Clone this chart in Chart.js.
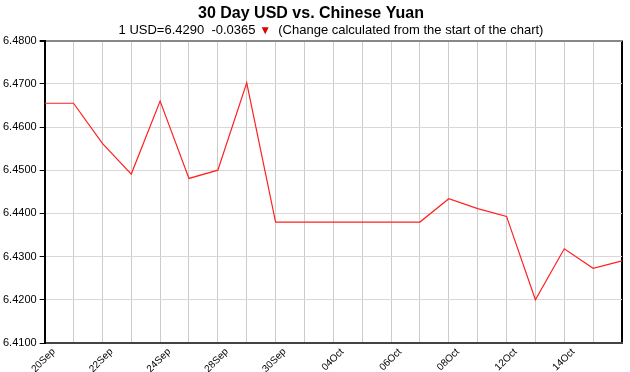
<!DOCTYPE html>
<html>
<head>
<meta charset="utf-8">
<script src="https://cdn.jsdelivr.net/npm/chart.js@4.4.1/dist/chart.umd.min.js"></script>
<style>
  html, body { margin: 0; padding: 0; background: #fff; }
  #wrap { width: 630px; height: 372px; }
</style>
</head>
<body>
<div id="wrap"><canvas id="chart" width="630" height="372"></canvas></div>
<script>
// Trading days shown on the x axis
const dates = [
  "20Sep", "21Sep", "22Sep", "23Sep", "24Sep", "27Sep", "28Sep", "29Sep",
  "30Sep", "01Oct", "04Oct", "05Oct", "06Oct", "07Oct", "08Oct", "11Oct",
  "12Oct", "13Oct", "14Oct", "15Oct", "18Oct",
];

// USD -> CNY rate
const rates = [
  6.4655, 6.4655, 6.4562, 6.4491, 6.4660, 6.4481, 6.4500, 6.4702,
  6.4380, 6.4380, 6.4380, 6.4380, 6.4380, 6.4380, 6.4434, 6.4411,
  6.4393, 6.4200, 6.4318, 6.4273, 6.4290,
];

const yTicks = [6.41, 6.42, 6.43, 6.44, 6.45, 6.46, 6.47, 6.48];

const TITLE = "30 Day USD vs. Chinese Yuan";
const SUB_PARTS = [
  { text: "1 USD=6.4290  -0.0365 ", color: "#000", size: 13 },
  { text: "\u25BC", color: "#e00000", size: 12 },
  { text: "  (Change calculated from the start of the chart)", color: "#000", size: 13 },
];
const SUB_TEXT = SUB_PARTS.map((p) => p.text).join("");
const FONT = "'Liberation Sans', Arial, sans-serif";

// Draws the subtitle in several colours inside the space reserved by the subtitle box
const subtitleColors = {
  id: "subtitleColors",
  afterDraw(chart) {
    const box = chart.boxes.find(
      (b) => b.options && b.options.text === SUB_TEXT && b.options.color === "rgba(0,0,0,0)",
    );
    if (!box) return;
    const ctx = chart.ctx;
    ctx.save();
    ctx.textBaseline = "middle";
    ctx.textAlign = "left";
    let total = 0;
    SUB_PARTS.forEach((p) => {
      ctx.font = p.size + "px " + FONT;
      total += ctx.measureText(p.text).width;
    });
    let x = (box.left + box.right) / 2 - total / 2 + 20;
    const y = box.top + box.options.padding.top + 7;
    SUB_PARTS.forEach((p) => {
      ctx.font = p.size + "px " + FONT;
      ctx.fillStyle = p.color;
      ctx.fillText(p.text, x, y);
      x += ctx.measureText(p.text).width;
    });
    ctx.restore();
  },
};

new Chart(document.getElementById("chart"), {
  type: "line",
  data: {
    labels: dates,
    datasets: [
      {
        data: rates,
        borderColor: "#ff2020",
        borderWidth: 1.2,
        pointRadius: 0,
        tension: 0,
        fill: false,
      },
    ],
  },
  options: {
    responsive: false,
    animation: false,
    devicePixelRatio: 1,
    layout: { padding: { left: 0, right: 8, top: 0, bottom: 0 } },
    plugins: {
      legend: { display: false },
      tooltip: { enabled: false },
      title: {
        display: true,
        text: TITLE,
        color: "#000",
        font: { family: FONT, size: 16, weight: "bold" },
        padding: { top: 4, bottom: 0 },
      },
      subtitle: {
        display: true,
        text: SUB_TEXT,
        color: "rgba(0,0,0,0)",
        font: { family: FONT, size: 12 },
        padding: { top: 0, bottom: 3 },
      },
    },
    scales: {
      x: {
        offset: false,
        afterFit: (axis) => {
          axis.height = 29;
          axis.paddingLeft = 0;
          axis.paddingRight = 0;
        },
        grid: {
          color: (c) => (c.index === dates.length - 1 ? "#000" : "#cccccc"),
          lineWidth: (c) => (c.index === dates.length - 1 ? 2 : 1),
          drawTicks: false,
        },
        border: { color: "#444", width: 2 },
        ticks: {
          color: "#000",
          font: { family: FONT, size: 10 },
          maxRotation: 45,
          minRotation: 45,
          autoSkip: false,
          padding: 3,
          labelOffset: 9,
          callback: (v, i) => (i % 2 === 0 && i < dates.length - 1 ? dates[i] : ""),
        },
      },
      y: {
        min: yTicks[0],
        max: yTicks[yTicks.length - 1],
        afterBuildTicks: (axis) => {
          axis.ticks = yTicks.map((v) => ({ value: v }));
        },
        grid: {
          color: (c) => (c.index === yTicks.length - 1 ? "#888" : "#d8d8d8"),
          lineWidth: (c) => (c.index === yTicks.length - 1 ? 2 : 1),
          tickColor: "#000",
          tickLength: 5,
        },
        border: { color: "#000", width: 2 },
        ticks: {
          color: "#000",
          font: { family: FONT, size: 11 },
          padding: 3,
          callback: (v) => Number(v).toFixed(4),
        },
      },
    },
  },
  plugins: [subtitleColors],
});
</script>
</body>
</html>
